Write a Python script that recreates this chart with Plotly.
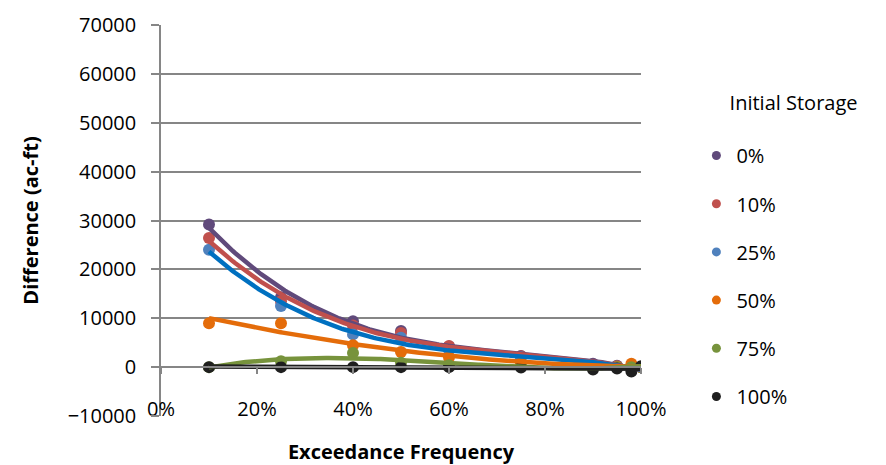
import numpy as np
import plotly.graph_objects as go

# Exceedance frequency of each run
freq = [0.10, 0.25, 0.40, 0.50, 0.60, 0.75, 0.90, 0.95, 0.98, 1.00]

# Storage difference (ac-ft) by initial storage level
s0 = [29200, 14300, 9400, 7400, 4200, 2300, 700, 300, 0, 0]
s10 = [26400, 13500, 8500, 7000, 4300, 2200, 500, 200, 0, 0]
s25 = [24000, 12500, 6700, 6000, 3500, 2000, 400, 100, 0, 0]
s50 = [9000, 9000, 4500, 3100, 2000, 800, 200, 100, 700, 0]
s75 = [0, 1200, 2900, 900, 400, 200, 0, 0, 0, 0]
s100 = [0, 0, 0, 0, 0, -100, -500, -300, -900, 200]

names = ["0%", "10%", "25%", "50%", "75%", "100%"]
series = [s0, s10, s25, s50, s75, s100]
marker_colors = ["#604A7B", "#C0504D", "#4F81BD", "#E46C0A", "#77933C", "#1F1F1F"]
line_colors = ["#604A7B", "#C0504D", "#0070C0", "#E46C0A", "#77933C", "#1F1F1F"]
fit_order = [3, 3, 3, 2, 3, 1]

FONT = "Open Sans"
GRID = "#868686"

fig = go.Figure()

x = np.array(freq)
xs = np.linspace(x.min(), x.max(), 200)

# data markers
for name, ys, mc in zip(names, series, marker_colors):
    fig.add_trace(go.Scatter(
        x=freq, y=ys, mode="markers", name=name, showlegend=False,
        marker=dict(color=mc, size=12), hoverinfo="x+y"))

# polynomial trendlines
for name, ys, lc, order in zip(names, series, line_colors, fit_order):
    coef = np.polyfit(x, np.array(ys, dtype=float), order)
    fig.add_trace(go.Scatter(
        x=xs, y=np.polyval(coef, xs), mode="lines", showlegend=False,
        line=dict(color=lc, width=4.5), hoverinfo="skip"))

# legend entries
for i, (name, mc) in enumerate(zip(names, marker_colors)):
    fig.add_trace(go.Scatter(
        x=[None], y=[None], mode="markers", name=name, legendgroup=f"g{i}",
        marker=dict(color=mc, size=9)))

# axis line along zero with downward ticks
fig.add_trace(go.Scatter(x=[None], y=[None], xaxis="x2", showlegend=False))

fig.update_layout(
    width=886, height=465,
    margin=dict(l=161, r=245, t=25, b=49),
    paper_bgcolor="white", plot_bgcolor="white",
    font=dict(family=FONT, size=20, color="#000000"),
    showlegend=True,
    legend=dict(
        title=dict(text="\u00a0\u00a0\u00a0\u00a0\u00a0\u00a0Initial Storage<br>\u00a0",
                   font=dict(family=FONT, size=20)),
        xref="container", yref="container", x=0.786, y=1 - 84 / 465,
        xanchor="left", yanchor="top", maxheight=440,
        font=dict(family=FONT, size=20), tracegroupgap=19.2,
        bgcolor="rgba(0,0,0,0)"),
    xaxis=dict(
        range=[0, 1], tickvals=[0, 0.2, 0.4, 0.6, 0.8, 1.0], tickformat=".0%",
        showgrid=False, zeroline=False, showline=False, ticks="",
        ticklabelstandoff=-21, automargin=False,
        title=dict(text="<b>Exceedance Frequency</b>", standoff=26,
                   font=dict(family=FONT, size=20))),
    xaxis2=dict(
        range=[0, 1], overlaying="x", anchor="free", position=0.125, side="bottom",
        tickvals=[0, 0.2, 0.4, 0.6, 0.8, 1.0], showticklabels=False, automargin=False,
        showgrid=False, zeroline=False, showline=True, linecolor=GRID, linewidth=1.5,
        ticks="outside", ticklen=6, tickcolor=GRID, tickwidth=1.5),
    yaxis=dict(
        range=[-10000, 70000], dtick=10000, tickformat="d",
        showgrid=True, gridcolor=GRID, gridwidth=1.5,
        zeroline=False, showline=True, linecolor=GRID, linewidth=1.5,
        ticks="outside", ticklen=8, tickcolor=GRID, tickwidth=1.5,
        ticklabelstandoff=11, automargin=False,
        title=dict(text="<b>Difference (ac-ft)</b>", standoff=24,
                   font=dict(family=FONT, size=20))),
)

fig.write_html("out.html")
